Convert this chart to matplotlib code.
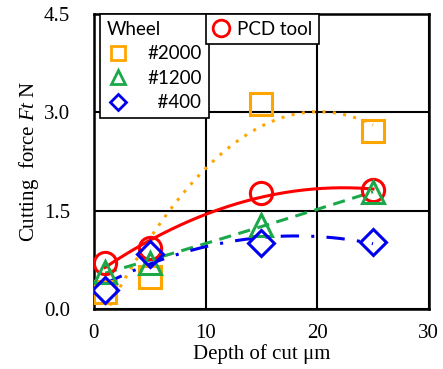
import numpy as np
import matplotlib
matplotlib.use("Agg")
import matplotlib.pyplot as plt
from matplotlib.lines import Line2D

plt.rcParams["mathtext.fontset"] = "custom"
plt.rcParams["mathtext.rm"] = "Liberation Serif"
plt.rcParams["mathtext.it"] = "Liberation Serif:italic"

# profondeur de coupe (um)
depth = [1, 5, 15, 25]

# effort de coupe Ft (N)
ft_2000 = [0.26, 0.49, 3.12, 2.71]
ft_1200 = [0.57, 0.70, 1.28, 1.78]
ft_400 = [0.29, 0.84, 1.00, 1.02]
ft_pcd = [0.70, 0.93, 1.77, 1.81]

c_2000 = "#FFA500"
c_1200 = "#1AA84A"
c_400 = "#0000EE"
c_pcd = "#FF0000"

serif = "Liberation Serif"
sans = "Lato"

fig = plt.figure(figsize=(4.43, 3.69), dpi=100)
ax = fig.add_axes([0.212, 0.163, 0.756, 0.799])

# courbes de tendance (polynome d'ordre 2 comme dans Excel)
xs = np.linspace(depth[0], depth[-1], 200)
for ys, col, ls, lw in [(ft_2000, c_2000, (0, (1, 2.4)), 2.2),
                        (ft_pcd, c_pcd, "-", 2.2),
                        (ft_1200, c_1200, (0, (4, 2.5)), 2.2),
                        (ft_400, c_400, (0, (6, 4, 1, 4)), 2.2)]:
    p = np.polyfit(depth, ys, 2)
    ax.plot(xs, np.polyval(p, xs), color=col, ls=ls, lw=lw, zorder=2)

mk = dict(mfc="none", mew=2.2, ls="none", zorder=3)
ax.plot(depth, ft_2000, marker="s", ms=16, color=c_2000, **mk)
ax.plot(depth, ft_pcd, marker="o", ms=16, color=c_pcd, **mk)
ax.plot(depth, ft_1200, marker="^", ms=16, color=c_1200, **mk)
ax.plot(depth, ft_400, marker="D", ms=13, color=c_400, **mk)

ax.set_xlim(0, 30)
ax.set_ylim(0, 4.5)
ax.set_xticks([0, 10, 20, 30])
ax.set_yticks([0, 1.5, 3.0, 4.5])
ax.set_yticklabels(["0.0", "1.5", "3.0", "4.5"])
ax.tick_params(length=0, labelsize=15)
ax.tick_params(axis="y", pad=17)
ax.tick_params(axis="x", pad=11)
for lab in ax.get_xticklabels() + ax.get_yticklabels():
    lab.set_fontfamily(serif)
ax.grid(True, color="black", lw=1.5)
ax.set_axisbelow(True)
for s in ax.spines.values():
    s.set_linewidth(1.8)

ax.set_xlabel("Depth of cut \u03bcm", fontfamily=serif, fontsize=15, labelpad=1)
ax.set_ylabel("Cutting  force $\\mathit{Ft}$ N", fontfamily=serif, fontsize=15, labelpad=2)

# legende "Wheel"
h = [Line2D([], [], marker="s", ms=10, color=c_2000, mfc="none", mew=2, ls="none"),
     Line2D([], [], marker="^", ms=10, color=c_1200, mfc="none", mew=2, ls="none"),
     Line2D([], [], marker="D", ms=8, color=c_400, mfc="none", mew=2, ls="none")]
leg1 = ax.legend(h, ["#2000", "#1200", "  #400"], title="Wheel", loc="upper left",
                 bbox_to_anchor=(0.018, 1.0), prop={"family": sans, "size": 13.5},
                 title_fontproperties={"family": sans, "size": 13.5},
                 frameon=True, fancybox=False, edgecolor="black", framealpha=1,
                 borderpad=0.35, labelspacing=0.4, handletextpad=1.0, handlelength=1.2,
                 borderaxespad=0)
leg1._legend_box.align = "left"
leg1.get_frame().set_linewidth(1.2)
ax.add_artist(leg1)

# legende "PCD tool"
h2 = [Line2D([], [], marker="o", ms=12, color=c_pcd, mfc="none", mew=2, ls="none")]
leg2 = ax.legend(h2, ["PCD tool"], loc="upper left", bbox_to_anchor=(0.336, 1.0),
                 prop={"family": sans, "size": 13.5}, frameon=True, fancybox=False,
                 edgecolor="black", framealpha=1, borderpad=0.35, handletextpad=0.4,
                 handlelength=0.9, borderaxespad=0)
leg2.get_frame().set_linewidth(1.2)

fig.savefig("out.png", dpi=100)
